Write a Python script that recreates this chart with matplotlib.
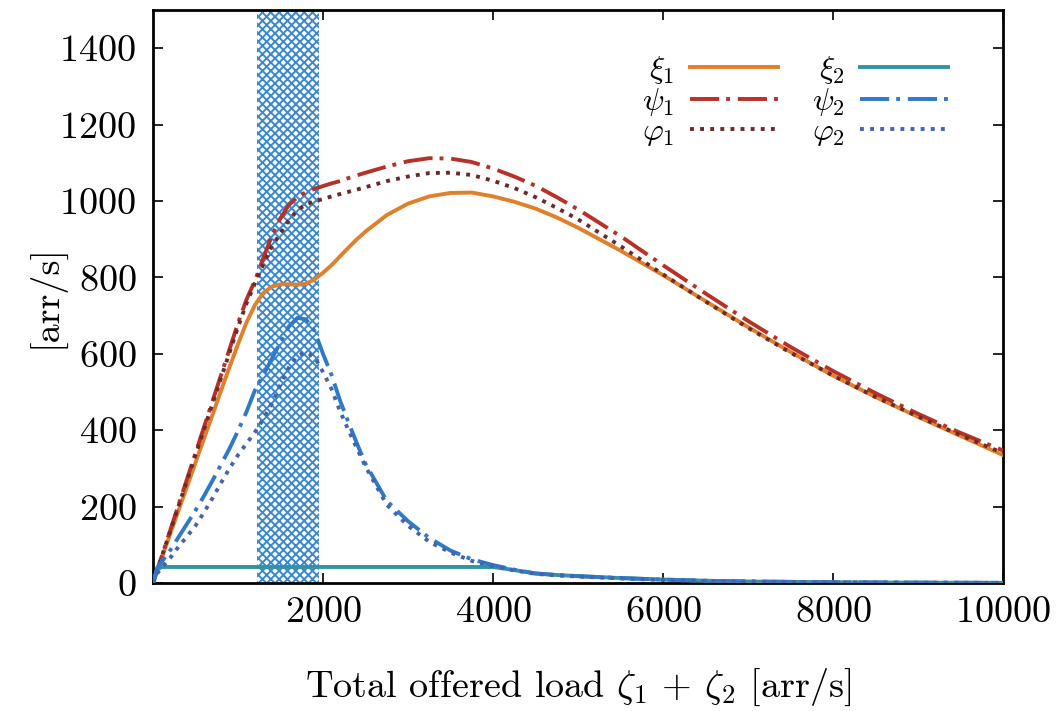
import matplotlib
matplotlib.use("Agg")
import matplotlib.pyplot as plt

plt.rcParams['font.family'] = ['cmr10']
plt.rcParams['mathtext.fontset'] = 'cm'
plt.rcParams['axes.formatter.use_mathtext'] = True
plt.rcParams['hatch.linewidth'] = 1.4

# ---- data ----
load = [0, 50, 100, 200, 300, 400, 500, 600, 700, 800, 900, 1000, 1100, 1200, 1300,
        1400, 1500, 1600, 1700, 1800, 1900, 2000, 2100, 2200, 2300, 2400, 2500, 2750,
        3000, 3250, 3500, 3750, 4000, 4250, 4500, 4750, 5000, 5500, 6000, 6500, 7000,
        7500, 8000, 8500, 9000, 9500, 10000]

xi1 = [0, 32, 64, 127, 190, 252, 315, 378, 440, 503, 565, 625, 682, 728, 760,
       776, 782, 782, 781, 783, 795, 812, 832, 855, 878, 900, 920, 963,
       993, 1012, 1021, 1022, 1012, 998, 980, 957, 930, 870, 806, 738, 670,
       605, 543, 487, 435, 385, 335]

psi1 = [0, 34, 68, 136, 204, 272, 340, 408, 476, 544, 612, 680, 742, 792, 852,
        910, 955, 990, 1010, 1023, 1032, 1039, 1046, 1052, 1060, 1067, 1074, 1090,
        1104, 1112, 1111, 1102, 1085, 1064, 1040, 1010, 978, 908, 832, 758, 686,
        618, 555, 497, 443, 393, 347]

phi1 = [0, 33, 67, 134, 201, 268, 335, 402, 469, 536, 603, 670, 732, 785, 835,
        882, 915, 950, 976, 991, 999, 1005, 1012, 1018, 1024, 1030, 1036, 1052,
        1064, 1073, 1074, 1068, 1053, 1034, 1010, 982, 952, 882, 808, 737, 668,
        603, 543, 487, 436, 387, 340]

xi2 = [0, 35, 42, 42, 42, 42, 42, 42, 42, 42, 42, 42, 42, 42, 42,
       42, 42, 42, 42, 42, 42, 42, 42, 42, 42, 42, 42, 42,
       42, 42, 42, 42, 42, 34, 25, 21, 18, 13, 9, 6, 4,
       3, 2, 1.5, 1, 0.7, 0.5]

psi2 = [0, 40, 55, 85, 120, 155, 190, 228, 268, 310, 352, 398, 448, 505, 545,
        588, 630, 672, 694, 690, 660, 600, 545, 478, 420, 365, 312, 215,
        162, 118, 85, 62, 47, 35, 25, 21, 18, 13, 9, 6, 4,
        3, 2, 1.5, 1, 0.7, 0.5]

phi2 = [0, 25, 40, 65, 95, 122, 150, 185, 222, 262, 300, 335, 365, 395, 430,
        470, 520, 565, 595, 605, 592, 552, 508, 450, 400, 352, 305, 205,
        150, 108, 80, 58, 44, 33, 24, 20, 17, 12, 8, 5.5, 3.8,
        2.8, 2, 1.5, 1, 0.7, 0.5]

band = [1220, 1950]

xticks = [2000, 4000, 6000, 8000, 10000]
yticks = [0, 200, 400, 600, 800, 1000, 1200, 1400]

# ---- figure ----
fig = plt.figure(figsize=(10.61, 7.11), dpi=100)
ax = fig.add_axes([0.1442, 0.18, 0.8011, 0.806])

ax.axvspan(band[0], band[1], facecolor='none', edgecolor='#3a88d0',
           hatch='xxxx', linewidth=0, zorder=0)

lw = 2.8
dashdot = (7.5, 1.8, 1.0, 2.0)
dotted = (1.0, 1.6)
ax.plot(load, xi1, color='#e0802a', lw=lw, label=r'$\xi_1$', zorder=3)
ax.plot(load, psi1, color='#b83128', lw=lw, dashes=dashdot,
        label=r'$\psi_1$', zorder=3)
ax.plot(load, phi1, color='#6e2a2a', lw=lw, dashes=dotted,
        label=r'$\varphi_1$', zorder=3)
ax.plot(load, xi2, color='#3194a2', lw=lw, label=r'$\xi_2$', zorder=3)
ax.plot(load, psi2, color='#2f7ac8', lw=lw, dashes=dashdot,
        label=r'$\psi_2$', zorder=3)
ax.plot(load, phi2, color='#4662b0', lw=lw, dashes=dotted,
        label=r'$\varphi_2$', zorder=3)

ax.set_xlim(0, 10000)
ax.set_ylim(0, 1500)
ax.set_xticks(xticks)
ax.set_yticks(yticks)
ax.tick_params(direction='in', length=7, width=1.2, top=True, right=True,
               labelsize=27.5)
ax.tick_params(axis='x', pad=9)
ax.tick_params(axis='y', pad=12)
for s in ax.spines.values():
    s.set_linewidth(2.0)

ax.set_xlabel(r'Total offered load $\zeta_1$ + $\zeta_2$ [arr/s]', fontsize=27.5)
ax.xaxis.set_label_coords(0.5, -0.146)
ax.set_ylabel('[arr/s]', fontsize=27.5)
ax.yaxis.set_label_coords(-0.104, 0.5)

leg = ax.legend(ncol=2, markerfirst=False, frameon=False, loc='upper right',
                bbox_to_anchor=(0.962, 0.962), fontsize=23, handlelength=2.75,
                handletextpad=0.5, columnspacing=1.05, labelspacing=0.0,
                borderpad=0.2)

fig.savefig('out.png', dpi=100)
